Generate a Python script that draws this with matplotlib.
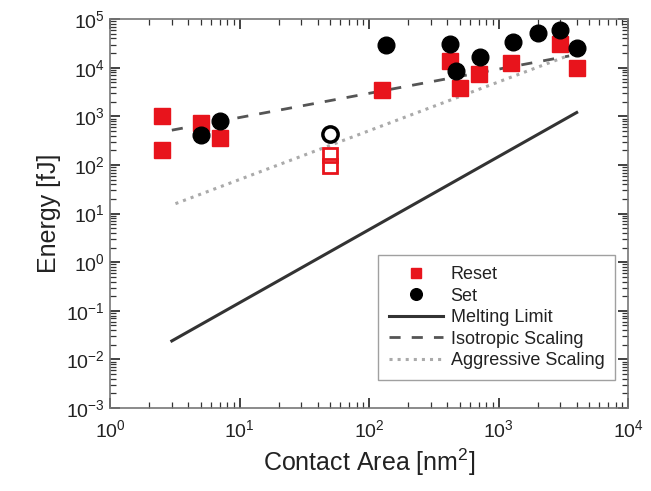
import numpy as np
import matplotlib.pyplot as plt
from matplotlib.ticker import LogLocator, NullFormatter

# -----------------------------
# DATA
# -----------------------------
reset_area = [2.5, 2.5, 5, 7, 125, 420, 500, 700, 1250, 3000, 4000]
reset_energy = [1000, 200, 720, 360, 3500, 14000, 3800, 7500, 12300, 31000, 9800]

set_area = [5, 7, 135, 420, 470, 720, 1300, 2000, 3000, 4000]
set_energy = [420, 800, 29500, 31000, 8700, 16500, 34500, 51000, 60000, 26000]

# hollow points at 50 nm^2
reset_open_area = [50, 50]
reset_open_energy = [160, 95]
set_open_area = [50]
set_open_energy = [430]

# scaling lines (end points)
melt_area = [3, 4000]
melt_energy = [0.024, 1200]
iso_area = [3, 3500]
iso_energy = [520, 17500]
aggr_area = [3.2, 3300]
aggr_energy = [16, 17000]

plt.rcParams.update({
    "font.family": ["Liberation Sans", "DejaVu Sans"],
    "mathtext.fontset": "custom",
    "mathtext.rm": "Liberation Sans",
})

fig = plt.figure(figsize=(6.51, 4.91), dpi=100)
ax = fig.add_axes([0.169, 0.169, 0.796, 0.792])

ax.plot(melt_area, melt_energy, "-", color="#333333", lw=2.2, label="Melting Limit")
ax.plot(iso_area, iso_energy, "--", color="#555555", lw=2.0, dashes=(4, 4), label="Isotropic Scaling")
ax.plot(aggr_area, aggr_energy, ":", color="#aaaaaa", lw=2.2, label="Aggressive Scaling")

ax.plot(reset_area, reset_energy, "s", color="#e8141c", ms=11, mec="#e8141c", ls="none", label="Reset", zorder=3)
ax.plot(set_area, set_energy, "o", color="black", ms=12, ls="none", label="Set", zorder=4)
ax.plot(reset_open_area, reset_open_energy, "s", mfc="none", mec="#e8141c", mew=2, ms=10, ls="none", zorder=3)
ax.plot(set_open_area, set_open_energy, "o", mfc="none", mec="black", mew=2.5, ms=11, ls="none", zorder=4)

ax.set_xscale("log")
ax.set_yscale("log")
ax.set_xlim(1, 1e4)
ax.set_ylim(1e-3, 1e5)

ax.xaxis.set_major_locator(LogLocator(base=10, numticks=10))
ax.yaxis.set_major_locator(LogLocator(base=10, numticks=20))
ax.xaxis.set_minor_locator(LogLocator(base=10, subs=np.arange(2, 10), numticks=20))
ax.yaxis.set_minor_locator(LogLocator(base=10, subs=np.arange(2, 10), numticks=20))
ax.xaxis.set_minor_formatter(NullFormatter())
ax.yaxis.set_minor_formatter(NullFormatter())

ax.tick_params(which="both", direction="in", top=True, right=True, labelsize=14,
               color="#333333", labelcolor="#222222")
ax.tick_params(which="major", length=7, width=1.3)
ax.tick_params(which="minor", length=4, width=0.9)
ax.tick_params(axis="x", pad=8)
for sp in ax.spines.values():
    sp.set_color("#777777")
    sp.set_linewidth(1.2)

ax.set_xlabel("Contact Area [nm$^2$]", fontsize=18, color="#222222")
ax.set_ylabel("Energy [fJ]", fontsize=18, color="#222222")

handles, labels = ax.get_legend_handles_labels()
order = [3, 4, 0, 1, 2]
leg = ax.legend([handles[i] for i in order], [labels[i] for i in order],
                loc="lower right", bbox_to_anchor=(0.975, 0.072), borderaxespad=0,
                fontsize=13, frameon=True, fancybox=False, edgecolor="#888888",
                handlelength=3.0, handletextpad=0.4, labelspacing=0.25,
                borderpad=0.6, markerscale=0.7)
for t in leg.get_texts():
    t.set_color("#222222")

fig.savefig("out.png", dpi=100)
